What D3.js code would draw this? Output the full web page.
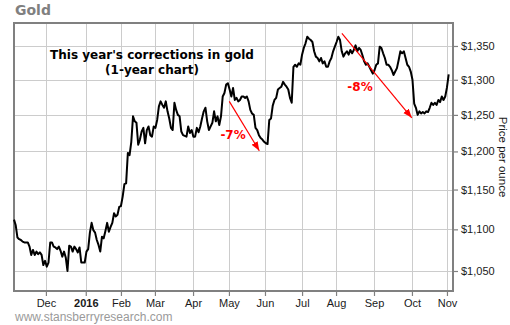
<!DOCTYPE html>
<html><head><meta charset="utf-8">
<script src="https://cdn.jsdelivr.net/npm/d3@7"></script>
<style>body{margin:0;background:#fff;} svg{display:block}</style>
</head><body><svg id="chart" width="510" height="325"></svg>
<script>
// Daily gold price (USD/oz), one value per trading day, early Nov 2015 -> early Nov 2016
const prices = [
1112,1105,1090,1088,1087,1085,1084,1084,1084,1079,
1069,1075,1069,1073,1070,1072,1069,1057,1062,1055,
1060,1084,1084,1079,1078,1076,1079,1074,1067,1073,
1066,1050,1080,1079,1073,1079,1076,1072,1078,1060,
1060,1060,1073,1076,1096,1108,1099,1096,1087,1081,
1073,1091,1089,1098,1108,1097,1103,1108,1120,1116,
1118,1128,1129,1141,1157,1158,1198,1195,1213,1248,
1241,1239,1209,1216,1227,1232,1211,1229,1234,1222,
1220,1234,1232,1243,1262,1269,1264,1260,1269,1255,
1245,1232,1229,1267,1257,1250,1248,1227,1222,1221,
1220,1234,1225,1229,1220,1220,1232,1226,1234,1245,
1255,1260,1241,1229,1234,1239,1255,1241,1248,1236,
1248,1276,1281,1293,1295,1286,1276,1288,1271,1274,
1269,1271,1276,1276,1274,1276,1269,1257,1252,1250,
1232,1229,1222,1218,1216,1213,1211,1210,1243,1245,
1263,1271,1274,1286,1288,1290,1297,1293,1290,1286,
1274,1267,1319,1322,1319,1324,1322,1337,1347,1354,
1364,1361,1359,1356,1342,1334,1332,1327,1332,1324,
1327,1319,1319,1327,1332,1342,1349,1356,1364,1359,
1342,1334,1339,1342,1337,1344,1339,1344,1351,1342,
1347,1344,1336,1327,1322,1324,1319,1314,1309,1314,
1322,1324,1349,1347,1339,1332,1322,1322,1319,1314,
1307,1312,1317,1329,1342,1339,1342,1332,1322,1319,
1312,1300,1266,1260,1250,1255,1252,1254,1252,1255,
1254,1260,1267,1264,1267,1264,1271,1268,1276,1271,
1276,1289,1308
];
// Month boundaries (in trading-day units) and their labels
const monthLabels = ["Dec","2016","Feb","Mar","Apr","May","Jun","Jul","Aug","Sep","Oct","Nov"];
const monthDays   = [18.5, 41.6, 62, 81.7, 103.8, 124.6, 145.5, 167, 186.7, 208.7, 230.7, 251];
const priceTicks  = [1050,1100,1150,1200,1250,1300,1350];
const priceDomain = [1026.8, 1385.1];
const dayDomain   = [0, 254.5];
// Correction annotations: label, arrow start [day, price], arrow end [day, price], label anchor [day, price]
const corrLabels = ["-7%", "-8%"];
const corrFrom   = [[124.8, 1269], [190.1, 1369]];
const corrTo     = [[142.2, 1201], [230.6, 1246]];
const corrText   = [[127, 1217], [200.6, 1284]];

const W = 510, H = 325;
const P = {left:14, right:453, top:23, bottom:291};
const svg = d3.select("#chart");
const x = d3.scaleLinear().domain(dayDomain).range([P.left, P.right]);
const y = d3.scaleLog().domain(priceDomain).range([P.bottom, P.top]);
const crisp = v => Math.round(v) + 0.5;
const FONT = "'Liberation Sans', Arial, sans-serif";

svg.append("rect").attr("width", W).attr("height", H).attr("fill", "#fff");

// gridlines
const grid = svg.append("g").attr("stroke", "#cccccc").attr("stroke-width", 1);
grid.selectAll("line.v").data(monthDays).join("line")
  .attr("x1", d => crisp(x(d))).attr("x2", d => crisp(x(d)))
  .attr("y1", P.top).attr("y2", P.bottom);
grid.selectAll("line.h").data(priceTicks).join("line")
  .attr("y1", d => crisp(y(d))).attr("y2", d => crisp(y(d)))
  .attr("x1", P.left).attr("x2", P.right);

// axes
const yAxis = d3.axisRight(y).tickValues(priceTicks)
  .tickFormat(d => "$" + d3.format(",")(d)).tickSize(5).tickPadding(3);
const gy = svg.append("g").attr("transform", `translate(${P.right},0)`).call(yAxis);
gy.select(".domain").remove();
gy.selectAll(".tick line").attr("stroke", "#808080").attr("stroke-width", 1.2);
gy.selectAll(".tick text").attr("fill", "#1a1a1a").style("font", `11px ${FONT}`);

const xAxis = d3.axisBottom(x).tickValues(monthDays)
  .tickFormat((d, i) => monthLabels[i]).tickSize(5).tickPadding(3);
const gx = svg.append("g").attr("transform", `translate(0,${P.bottom})`).call(xAxis);
gx.select(".domain").remove();
gx.selectAll(".tick line").attr("stroke", "#808080").attr("stroke-width", 1.2);
gx.selectAll(".tick text").attr("fill", "#1a1a1a").style("font", `11px ${FONT}`)
  .style("font-weight", (d, i) => monthLabels[i] === "2016" ? "bold" : "normal");

// plot border
svg.append("rect").attr("x", P.left).attr("y", P.top)
  .attr("width", P.right - P.left).attr("height", P.bottom - P.top)
  .attr("fill", "none").attr("stroke", "#808080").attr("stroke-width", 2);

// price line
const line = d3.line().x((d, i) => x(i)).y(d => y(d));
svg.append("path").datum(prices).attr("d", line)
  .attr("fill", "none").attr("stroke", "#000").attr("stroke-width", 2)
  .attr("stroke-linejoin", "round");

// arrows
svg.append("defs").append("marker").attr("id", "ah")
  .attr("markerUnits", "userSpaceOnUse").attr("markerWidth", 10).attr("markerHeight", 8)
  .attr("refX", 9).attr("refY", 3.5).attr("orient", "auto")
  .append("path").attr("d", "M0,0 L9,3.5 L0,7 Z").attr("fill", "#ff0000");
svg.selectAll("line.arrow").data(corrLabels).join("line").attr("class", "arrow")
  .attr("x1", (d, i) => x(corrFrom[i][0])).attr("y1", (d, i) => y(corrFrom[i][1]))
  .attr("x2", (d, i) => x(corrTo[i][0])).attr("y2", (d, i) => y(corrTo[i][1]))
  .attr("stroke", "#ff0000").attr("stroke-width", 1.2).attr("marker-end", "url(#ah)");
svg.selectAll("text.corr").data(corrLabels).join("text").attr("class", "corr")
  .attr("x", (d, i) => x(corrText[i][0])).attr("y", (d, i) => y(corrText[i][1]))
  .attr("text-anchor", "middle").attr("fill", "#ff0000")
  .style("font", "bold 12px 'DejaVu Sans', Verdana, sans-serif").text(d => d);

// chart annotation title
const ann = svg.append("g").attr("fill", "#000")
  .style("font", "bold 12px 'DejaVu Sans', Verdana, sans-serif").attr("text-anchor", "middle");
ann.append("text").attr("x", 152).attr("y", 59).text("This year's corrections in gold");
ann.append("text").attr("x", 152).attr("y", 74).text("(1-year chart)");

// title
svg.append("text").attr("x", 15).attr("y", 15).attr("fill", "#808080")
  .style("font", "bold 14px 'DejaVu Sans', Verdana, sans-serif").text("Gold");

// y axis title
svg.append("text").attr("transform", "translate(499,157) rotate(90)")
  .attr("text-anchor", "middle").attr("fill", "#1a1a1a")
  .style("font", `11.5px ${FONT}`).text("Price per ounce");

// footer
svg.append("text").attr("x", 15).attr("y", 321).attr("fill", "#9a9a9a")
  .style("font", `12px ${FONT}`).text("www.stansberryresearch.com");
</script></body></html>
